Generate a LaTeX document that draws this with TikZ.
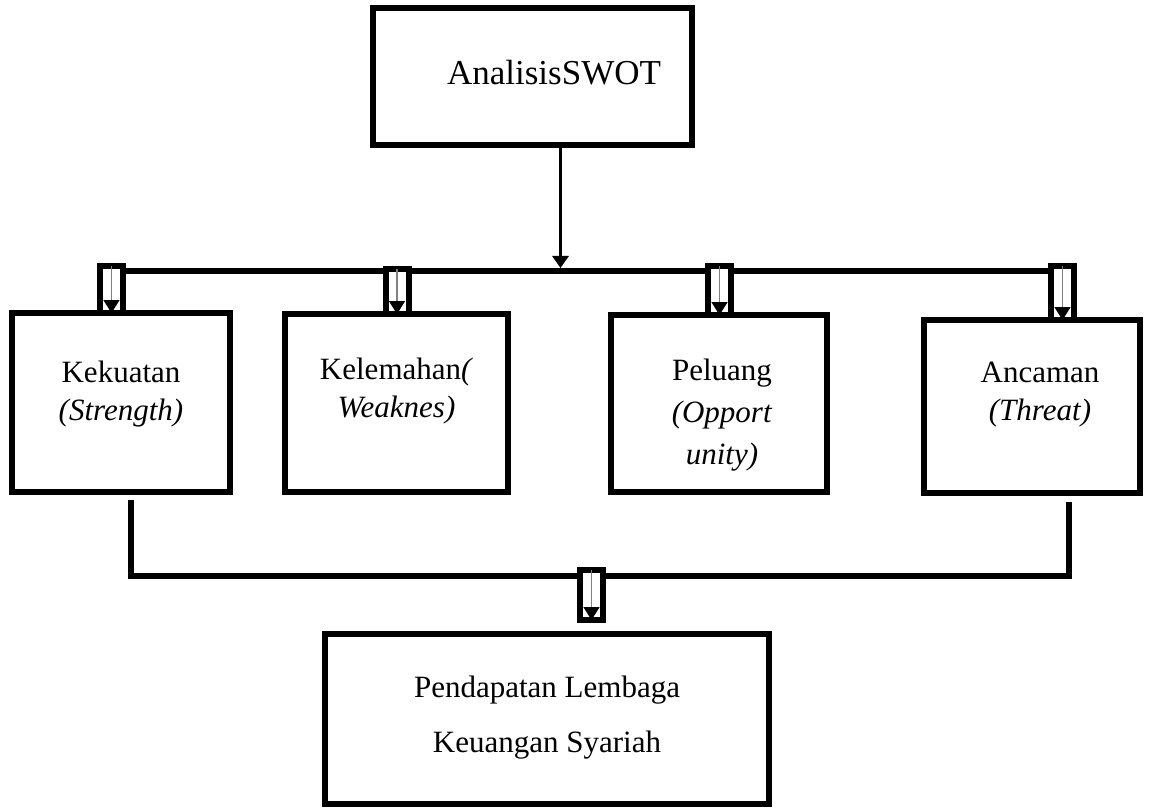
\documentclass[tikz,border=0pt]{standalone}
\usepackage{fontspec}
\setmainfont{Liberation Serif}
\usetikzlibrary{arrows.meta}
\begin{document}
\begin{tikzpicture}[x=1pt,y=-1pt]
\tikzset{
 bigbox/.style={draw, line width=6pt, fill=white, inner sep=0pt},
 txt/.style={font=\fontsize{31pt}{38pt}\selectfont, align=center, inner sep=0pt},
 smallbox/.style={draw, line width=6pt, fill=white, inner sep=0pt, minimum width=23pt},
 inarrow/.style={draw=gray, line width=1.5pt, -{Triangle[width=16pt,length=13pt,color=black]}},
 conn/.style={line width=6pt},
 mainarrow/.style={line width=3pt, -{Triangle[width=16pt,length=12pt]}},
}
\useasboundingbox (0,0) rectangle (1156,810);

% coordinates
\coordinate (hy) at (0,271);
\coordinate (ah) at (560.5,268);
\coordinate (bl1) at (130.5,500);
\coordinate (bl2) at (130.5,576);
\coordinate (br2) at (1068.5,576);
\coordinate (br1) at (1068.5,502);

% top box
\node[bigbox, minimum width=319pt, minimum height=137pt,
  label={[txt, font=\fontsize{35pt}{40pt}\selectfont, xshift=21.5pt, yshift=4pt]center:AnalisisSWOT}] (top) at (532.5,76.5) {};

% small connector boxes (positions)
\coordinate (c1) at (111.5,289.5);
\coordinate (c4) at (1062.5,293);

% main horizontal line
\draw[conn] (c1 |- hy) -- (c4 |- hy);
\draw[mainarrow] (top.south -| ah) -- (ah);

% bottom connector
\draw[conn] (bl1) -- (bl2) -- (br2) -- (br1);

% small boxes
\node[smallbox, minimum height=47pt] (sa1) at (c1) {};
\node[smallbox, minimum height=45pt] (sa2) at (397,291.5) {};
\node[smallbox, minimum height=48.5pt] (sa3) at (719.5,290.75) {};
\node[smallbox, minimum height=54pt] (sa4) at (c4) {};
\node[smallbox, minimum height=50pt] (sa5) at (591.5,595) {};

% four boxes
\node[bigbox, minimum width=218pt, minimum height=179pt,
  label={[txt, yshift=8.5pt]center:{Kekuatan\\\textit{(Strength)}}}] (kek) at (121,402.5) {};
\node[bigbox, minimum width=223pt, minimum height=178pt,
  label={[txt, yshift=11.5pt]center:{Kelemahan\textit{(}\\\textit{Weaknes)}}}] (kel) at (396.5,403) {};
\node[bigbox, minimum width=216pt, minimum height=177pt,
  label={[txt, font=\fontsize{31pt}{42pt}\selectfont, yshift=-11.5pt, xshift=3pt]center:{Peluang\\\textit{(Opport}\\\textit{unity)}}}] (pel) at (719,403.5) {};
\node[bigbox, minimum width=216pt, minimum height=173pt,
  label={[txt, yshift=12pt, xshift=8pt]center:{Ancaman\\\textit{(Threat)}}}] (anc) at (1032,406.5) {};

% bottom box
\node[bigbox, minimum width=444pt, minimum height=170pt,
  label={[txt, font=\fontsize{31pt}{55pt}\selectfont, yshift=1.5pt]center:{Pendapatan Lembaga\\Keuangan Syariah}}] (pend) at (547,719) {};

% inner arrows
\foreach \s in {sa1,sa2,sa3,sa4,sa5}{
  \draw[inarrow] ([yshift=-3pt]\s.north) -- ([yshift=3pt]\s.south);
}
\end{tikzpicture}
\end{document}
